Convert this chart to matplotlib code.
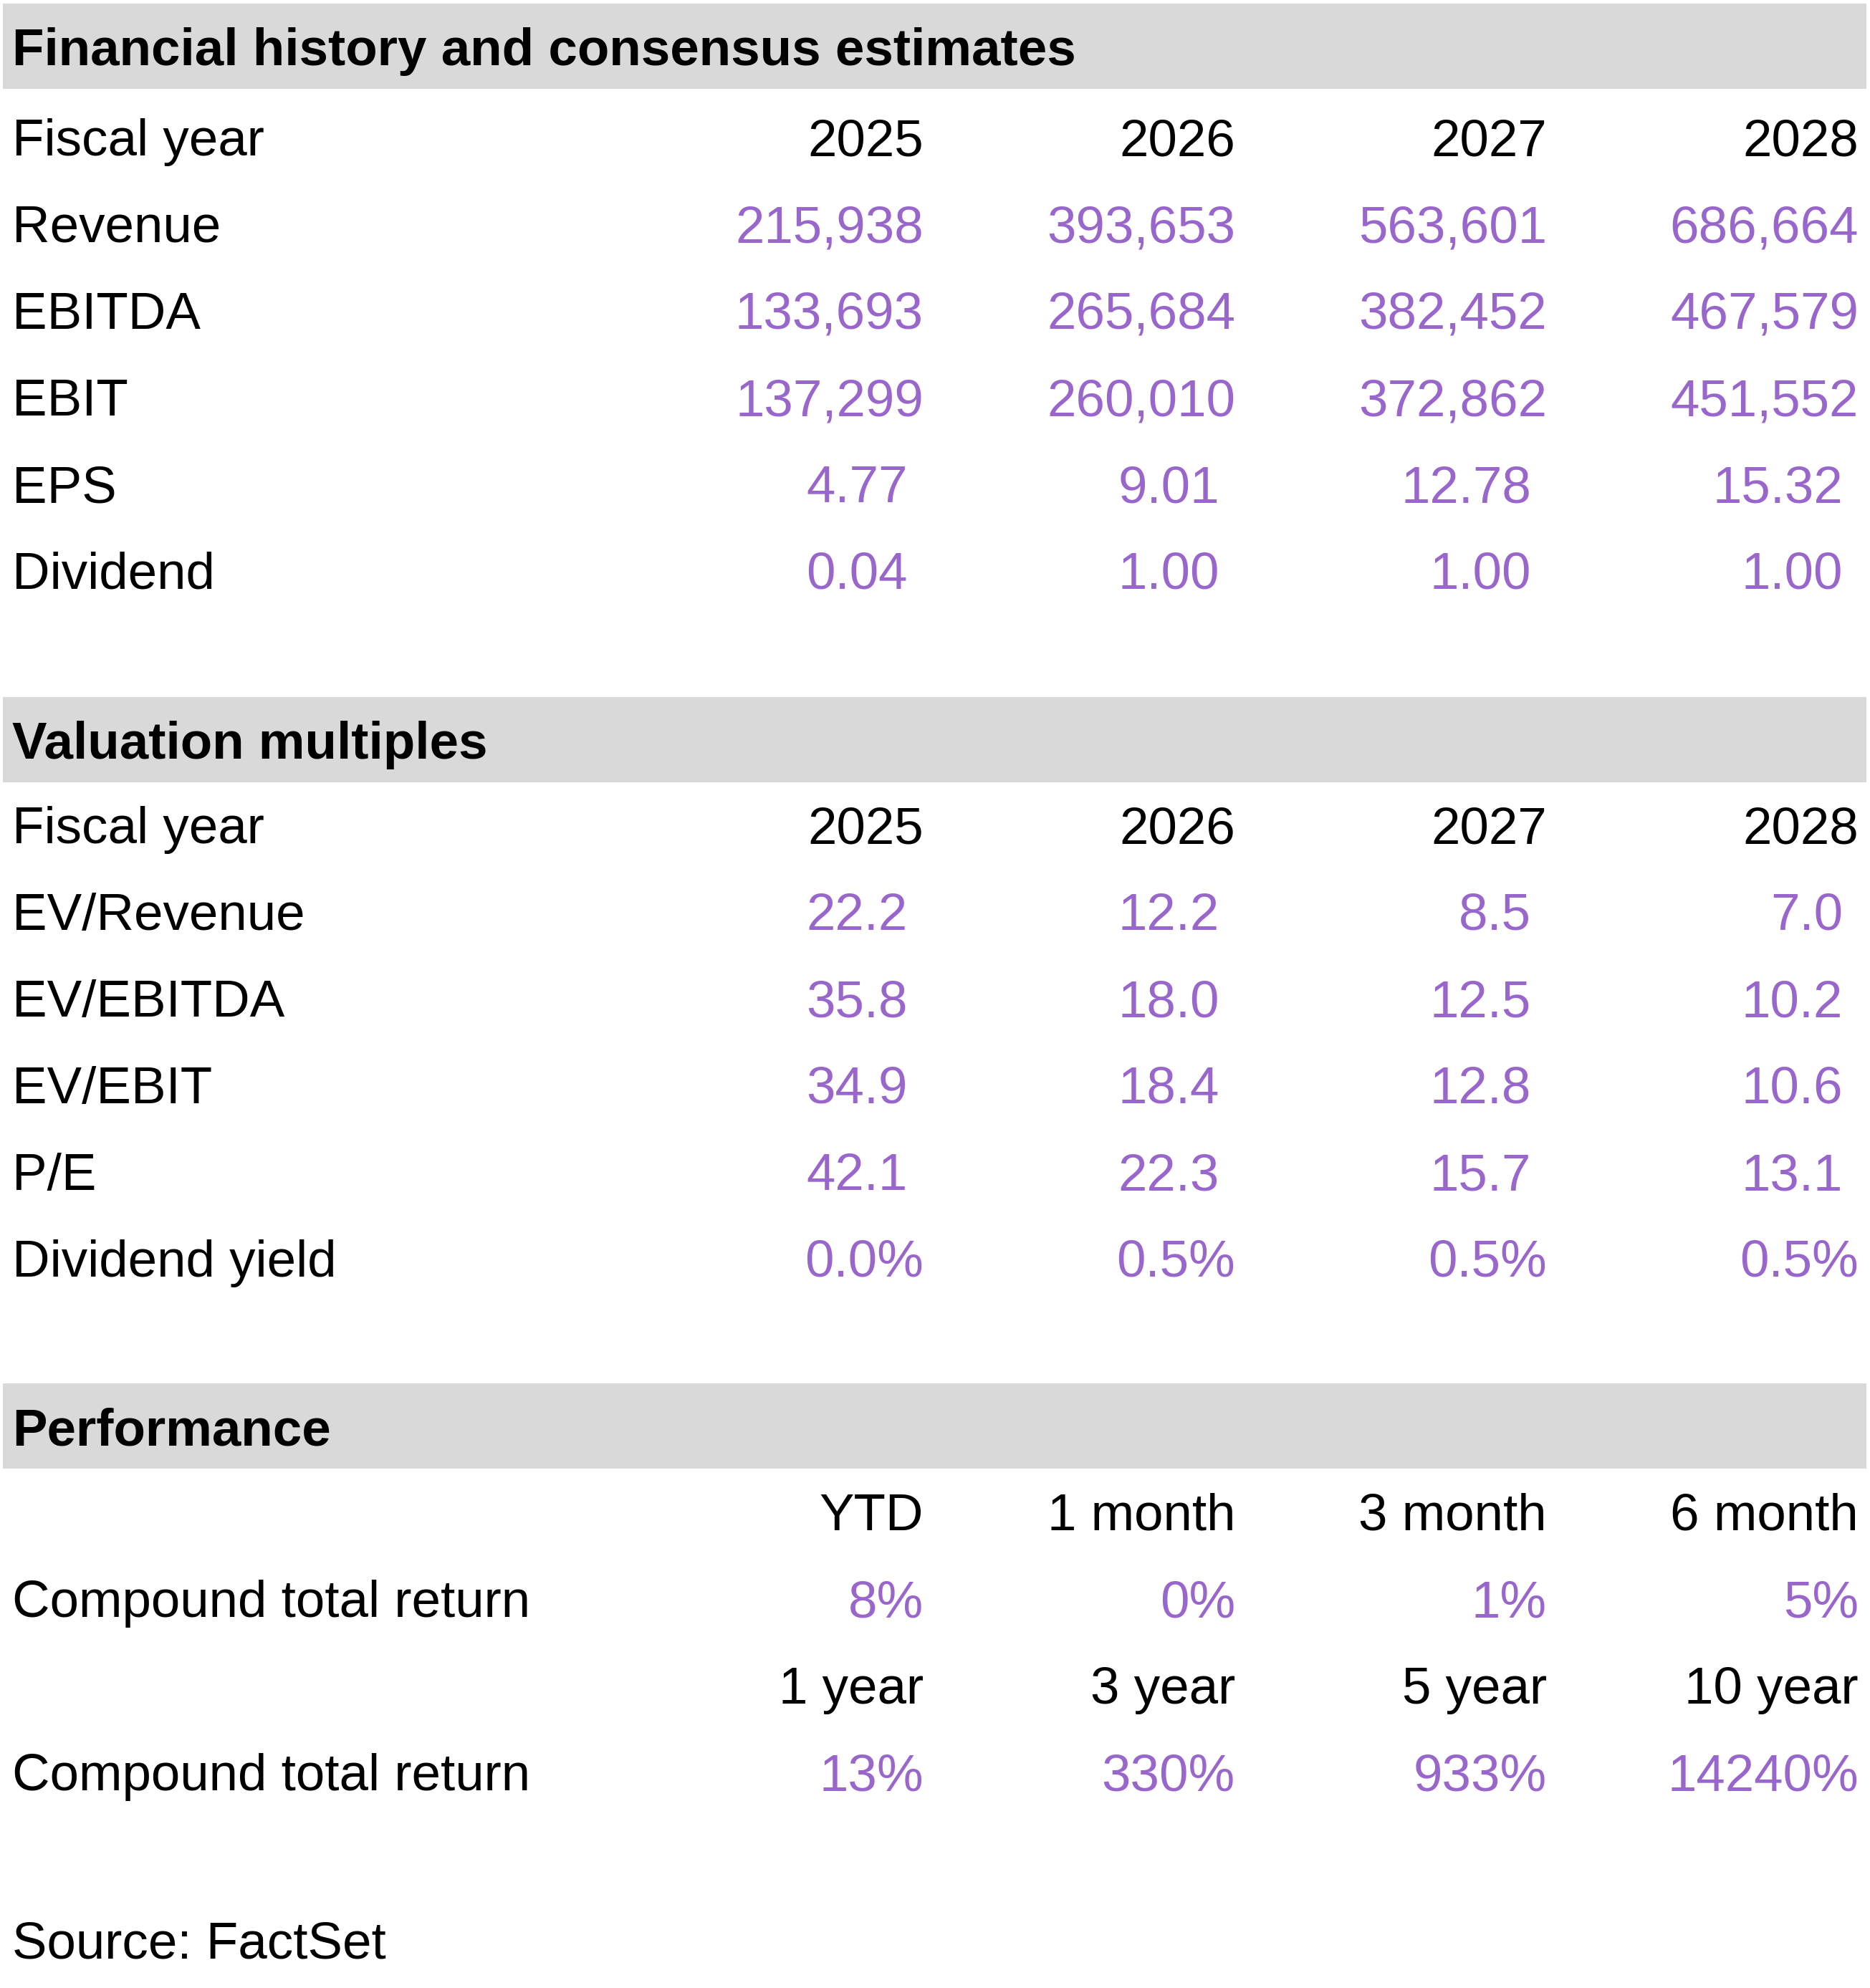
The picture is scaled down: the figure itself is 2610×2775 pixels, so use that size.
import matplotlib.pyplot as plt
from matplotlib.patches import Rectangle

plt.rcParams['font.family'] = ['Liberation Sans', 'DejaVu Sans']

# data
years = ['2025', '2026', '2027', '2028']

fin_labels = ['Revenue', 'EBITDA', 'EBIT', 'EPS', 'Dividend']
revenue = [215938, 393653, 563601, 686664]
ebitda = [133693, 265684, 382452, 467579]
ebit = [137299, 260010, 372862, 451552]
eps = [4.77, 9.01, 12.78, 15.32]
dividend = [0.04, 1.00, 1.00, 1.00]

val_labels = ['EV/Revenue', 'EV/EBITDA', 'EV/EBIT', 'P/E', 'Dividend yield']
ev_revenue = [22.2, 12.2, 8.5, 7.0]
ev_ebitda = [35.8, 18.0, 12.5, 10.2]
ev_ebit = [34.9, 18.4, 12.8, 10.6]
pe = [42.1, 22.3, 15.7, 13.1]
div_yield = [0.0, 0.5, 0.5, 0.5]

periods_short = ['YTD', '1 month', '3 month', '6 month']
returns_short = [8, 0, 1, 5]
periods_long = ['1 year', '3 year', '5 year', '10 year']
returns_long = [13, 330, 933, 14240]

source = 'Source: FactSet'

purple = '#9966CC'
band_color = '#D9D9D9'
fs = 52.4

W, H = 2610, 2775
fig = plt.figure(figsize=(W / 100, H / 100), dpi=100)
ax = fig.add_axes([0, 0, 1, 1])
ax.set_xlim(0, W)
ax.set_ylim(H, 0)
ax.axis('off')

col_x = [1289, 1724, 2159, 2594]
pad = 22  # excel style right padding for decimal numbers
label_x = 17
pitch = 121


def band(top, title):
    ax.add_patch(Rectangle((4, top), 2601, 119, color=band_color, lw=0))
    ax.text(label_x, top + 86, title, fontsize=fs, fontweight='bold', va='baseline')


def row(y, label, cells, color='black', offset=0):
    if label:
        ax.text(label_x, y, label, fontsize=fs, va='baseline')
    for x, c in zip(col_x, cells):
        ax.text(x - offset, y, c, fontsize=fs, color=color, ha='right', va='baseline')


# section 1
band(5, 'Financial history and consensus estimates')
y0 = 217
row(y0, 'Fiscal year', years)
fin_rows = [
    ([f'{v:,}' for v in revenue], 0),
    ([f'{v:,}' for v in ebitda], 0),
    ([f'{v:,}' for v in ebit], 0),
    ([f'{v:.2f}' for v in eps], pad),
    ([f'{v:.2f}' for v in dividend], pad),
]
for i, (lab, (cells, off)) in enumerate(zip(fin_labels, fin_rows)):
    row(y0 + pitch * (i + 1), lab, cells, purple, off)

# section 2
band(973, 'Valuation multiples')
y0 = 1177
row(y0, 'Fiscal year', years)
val_rows = [
    ([f'{v:.1f}' for v in ev_revenue], pad),
    ([f'{v:.1f}' for v in ev_ebitda], pad),
    ([f'{v:.1f}' for v in ev_ebit], pad),
    ([f'{v:.1f}' for v in pe], pad),
    ([f'{v:.1f}%' for v in div_yield], 0),
]
for i, (lab, (cells, off)) in enumerate(zip(val_labels, val_rows)):
    row(y0 + pitch * (i + 1), lab, cells, purple, off)

# section 3
band(1931, 'Performance')
y0 = 2136
row(y0, '', periods_short)
row(y0 + pitch, 'Compound total return', [f'{v}%' for v in returns_short], purple)
row(y0 + pitch * 2, '', periods_long)
row(y0 + pitch * 3, 'Compound total return', [f'{v}%' for v in returns_long], purple)

ax.text(label_x, 2734, source, fontsize=fs, va='baseline')

fig.savefig('out.png', dpi=100)
